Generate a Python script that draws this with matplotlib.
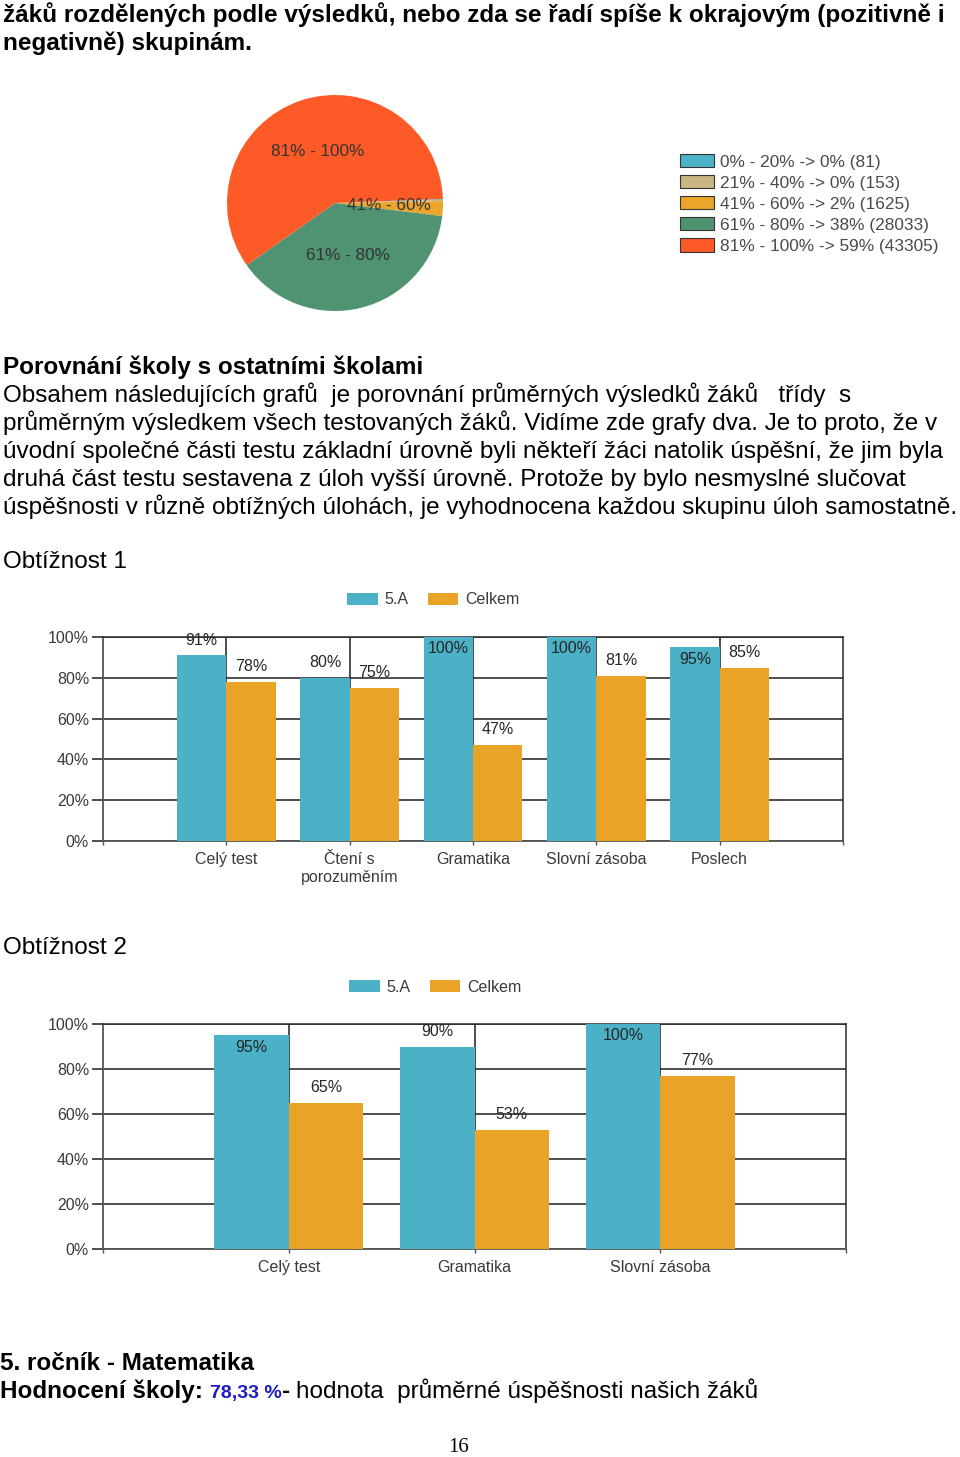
import matplotlib
matplotlib.use('Agg')
import matplotlib.pyplot as plt
from matplotlib.patches import Patch
import numpy as np

plt.rcParams['font.family'] = ['Liberation Sans', 'DejaVu Sans']

W, H = 960, 1457


def fx(x):
    return x / W


def fy(y):
    return 1 - y / H


# --- data -------------------------------------------------------------
pie_ranges = ['0% - 20%', '21% - 40%', '41% - 60%', '61% - 80%', '81% - 100%']
pie_share = [0, 0, 2, 38, 59]
pie_counts = [81, 153, 1625, 28033, 43305]
pie_colors = ['#4cb2c7', '#c9b583', '#eba52a', '#4f9373', '#fd5a27']
pie_inside = ['', '', '41% - 60%', '61% - 80%', '81% - 100%']

cats1 = ['Celý test', 'Čtení s\nporozuměním', 'Gramatika', 'Slovní zásoba', 'Poslech']
trida1 = [91, 80, 100, 100, 95]
celkem1 = [78, 75, 47, 81, 85]

cats2 = ['Celý test', 'Gramatika', 'Slovní zásoba']
trida2 = [95, 90, 100]
celkem2 = [65, 53, 77]

teal = '#4ab1c6'
orange = '#e9a326'
chart_txt = '#3a3a3a'
body = 17.5

top_lines = ['žáků rozdělených podle výsledků, nebo zda se řadí spíše k okrajovým (pozitivně i',
             'negativně) skupinám.']
para_lines = ['Obsahem následujících grafů  je porovnání průměrných výsledků žáků   třídy  s',
              'průměrným výsledkem všech testovaných žáků. Vidíme zde grafy dva. Je to proto, že v',
              'úvodní společné části testu základní úrovně byli někteří žáci natolik úspěšní, že jim byla',
              'druhá část testu sestavena z úloh vyšší úrovně. Protože by bylo nesmyslné slučovat',
              'úspěšnosti v různě obtížných úlohách, je vyhodnocena každou skupinu úloh samostatně.']

fig = plt.figure(figsize=(9.6, 14.57), dpi=100)

# --- page text -------------------------------------------------------
for i, line in enumerate(top_lines):
    fig.text(fx(3), fy(22 + 28 * i), line, fontsize=body, fontweight='bold', va='baseline')

fig.text(fx(3), fy(374), 'Porovnání školy s ostatními školami', fontsize=body,
         fontweight='bold', va='baseline')
for i, line in enumerate(para_lines):
    fig.text(fx(3), fy(402 + 28 * i), line, fontsize=body, va='baseline')

fig.text(fx(3), fy(568), 'Obtížnost 1', fontsize=body, va='baseline')
fig.text(fx(3), fy(954), 'Obtížnost 2', fontsize=body, va='baseline')

# --- pie ----------------------------------------------------------------
r = 108
ax_pie = fig.add_axes([fx(335 - r), fy(203 + r), 2 * r / W, 2 * r / H])
ax_pie.pie(pie_counts, colors=pie_colors, labels=pie_inside, labeldistance=0.5,
           startangle=2.15, counterclock=False,
           textprops=dict(fontsize=12.3, color='#333333', ha='center', va='center'))
ax_pie.set_xlim(-1, 1)
ax_pie.set_ylim(-1, 1)

handles = [Patch(facecolor=c, edgecolor='#333333', lw=0.8) for c in pie_colors]
labels = [f'{rg} -> {s}% ({n})' for rg, s, n in zip(pie_ranges, pie_share, pie_counts)]
fig.legend(handles, labels, loc='center left', bbox_to_anchor=(fx(680), fy(204)),
           frameon=False, fontsize=12.4, borderpad=0, borderaxespad=0,
           handlelength=1.95, handleheight=0.8, handletextpad=0.35,
           labelspacing=0.32, labelcolor='#4a4a4a')


# --- bar charts -----------------------------------------------------------
def bar_chart(ax, cats, trida, celkem, leg_x, leg_y):
    x = np.arange(len(cats))
    ax.bar(x - 0.2, trida, 0.4, color=teal, label='5.A', zorder=3)
    ax.bar(x + 0.2, celkem, 0.4, color=orange, label='Celkem', zorder=3)
    for xs, vals in ((x - 0.2, trida), (x + 0.2, celkem)):
        for xi, v in zip(xs, vals):
            off = -8.5 if v >= 95 else 11
            ax.annotate(f'{v}%', (xi, v), xytext=(0, off), textcoords='offset points',
                        ha='center', va='center', fontsize=11.5, color='#262626', zorder=4)
    ax.set_xlim(-1, len(cats))
    ax.set_ylim(0, 100)
    ax.set_yticks(range(0, 101, 20))
    ax.set_yticklabels([f'{v}%' for v in range(0, 101, 20)])
    ax.set_xticks(x)
    ax.set_xticklabels(cats, linespacing=1.2)
    ax.set_xticks([-1, len(cats)], minor=True)
    ax.grid(color='#1e1e1e', lw=1.1)
    ax.set_axisbelow(True)
    ax.tick_params(axis='y', length=8, width=1.1, color='#1e1e1e', pad=2,
                   labelsize=11.5, labelcolor=chart_txt)
    ax.tick_params(axis='x', which='both', length=3, width=1, color='#555555', pad=5,
                   labelsize=11.5, labelcolor=chart_txt)
    for s in ('left', 'bottom'):
        ax.spines[s].set_color('#555555')
        ax.spines[s].set_linewidth(1.3)
    for s in ('top', 'right'):
        ax.spines[s].set_color('#2a2a2a')
        ax.spines[s].set_linewidth(1.1)
    ax.legend(ncol=2, loc='center', bbox_to_anchor=(leg_x, leg_y), frameon=False,
              fontsize=11.5, handlelength=1.9, handleheight=0.8, handletextpad=0.45,
              columnspacing=1.2, borderpad=0, labelcolor=chart_txt)


ax1 = fig.add_axes([fx(103), fy(841), 740 / W, 204 / H])
bar_chart(ax1, cats1, trida1, celkem1, (433.5 - 103) / 740, 1 + 37 / 204)

ax2 = fig.add_axes([fx(103), fy(1249), 743 / W, 225 / H])
bar_chart(ax2, cats2, trida2, celkem2, (435.5 - 103) / 743, 1 + 37 / 225)

# --- footer -----------------------------------------------------------------
fig.text(fx(0), fy(1370), '5. ročník - Matematika', fontsize=body, fontweight='bold',
         va='baseline')

renderer = fig.canvas.get_renderer()
pieces = [('Hodnocení školy: ', body, 'bold', 'black'),
          ('78,33 %', 14, 'bold', '#1c1cc4'),
          ('- ', body, 'bold', 'black'),
          ('hodnota  průměrné úspěšnosti našich žáků', body, 'normal', 'black')]
x_px = 0
for txt, size, weight, col in pieces:
    t = fig.text(fx(x_px), fy(1398), txt, fontsize=size, fontweight=weight, color=col,
                 va='baseline')
    x_px = t.get_window_extent(renderer).x1

fig.text(fx(459), fy(1452), '16', fontsize=15, family='Liberation Serif',
         ha='center', va='baseline')

fig.savefig('out.png', dpi=100, facecolor='white')
